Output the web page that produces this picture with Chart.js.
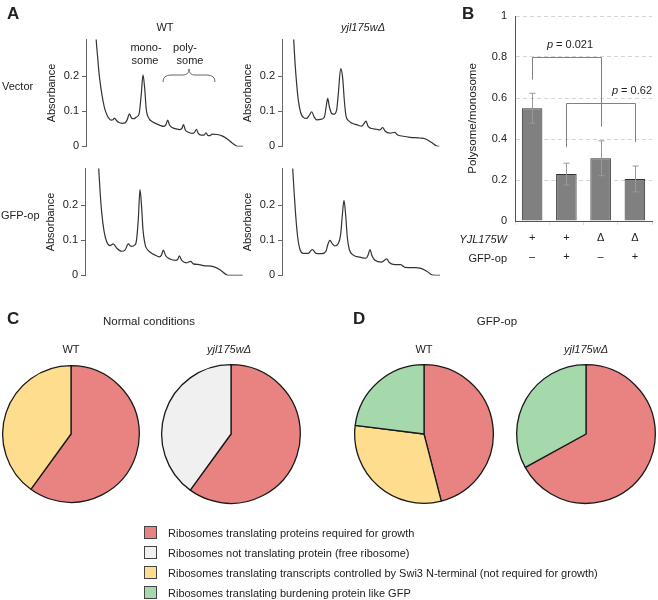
<!DOCTYPE html>
<html>
<head>
<meta charset="utf-8">
<script src="https://cdn.jsdelivr.net/npm/chart.js@4.4.1/dist/chart.umd.min.js"></script>
<style>
  body { margin: 0; background: #fff; }
  #fig { position: relative; width: 658px; height: 600px; overflow: hidden;
         font-family: "Liberation Sans", Arial, sans-serif; font-size: 11px; color: #222; }
  #fig canvas { position: absolute; }
  .t { position: absolute; white-space: nowrap; line-height: 1; }
  .sw { position: absolute; width: 13px; height: 13px; border: 1px solid #444; box-sizing: border-box; }
</style>
</head>
<body>
<div id="fig">
  <canvas id="aTL" width="210" height="126" style="left:40px;top:30px"></canvas>
  <canvas id="aTR" width="210" height="126" style="left:236px;top:30px"></canvas>
  <canvas id="aBL" width="210" height="126" style="left:39px;top:159px"></canvas>
  <canvas id="aBR" width="210" height="126" style="left:236px;top:159px"></canvas>
  <canvas id="ratio" width="198" height="270" style="left:460px;top:0px"></canvas>
  <canvas id="pie1" width="142" height="142" style="left:0px;top:363px"></canvas>
  <canvas id="pie2" width="144" height="144" style="left:159px;top:362px"></canvas>
  <canvas id="pie3" width="144" height="144" style="left:352px;top:362px"></canvas>
  <canvas id="pie4" width="144" height="144" style="left:514px;top:362px"></canvas>
  <svg width="658" height="600" style="position:absolute;left:0;top:0;pointer-events:none">
    <path d="M163,82 Q163,75 171,75 L183,75 Q189,75 189,69 Q189,75 195,75 L207,75 Q215,75 215,82"
          fill="none" stroke="#666" stroke-width="1"/>
  </svg>
</div>
<script>
// ---- Panel A: polysome profiles (gradient position vs absorbance) ----
const absTicks = [0, 0.1, 0.2];

const wtVecX = [9.5, 10.3, 11.5, 13, 15, 17, 19, 21, 23, 25, 27, 28.5, 30.5, 33, 36, 39, 41, 43.5, 45.5, 48, 50, 53,
  55.3, 57, 58.7, 60.3, 63, 66, 70, 74, 78, 80, 81.7, 83.5, 86, 90, 94, 96, 97.5, 99.3, 102, 106, 108.5, 110.5,
  112.3, 115, 118, 120, 122, 124, 126, 131, 136, 141, 146, 150, 152, 157];
const wtVecY = [0.34, 0.30, 0.26, 0.21, 0.165, 0.13, 0.105, 0.09, 0.08, 0.075, 0.076, 0.081, 0.074, 0.068, 0.066, 0.067,
  0.075, 0.093, 0.081, 0.079, 0.083, 0.092, 0.15, 0.204, 0.165, 0.105, 0.08, 0.071, 0.065, 0.06, 0.057, 0.063,
  0.075, 0.061, 0.054, 0.05, 0.048, 0.052, 0.062, 0.047, 0.041, 0.037, 0.04, 0.049, 0.037, 0.032, 0.032, 0.039,
  0.031, 0.031, 0.035, 0.034, 0.03, 0.022, 0.01, 0.002, 0, 0];

const delVecX = [11, 13, 14.7, 16.3, 18.7, 21.3, 24.7, 27.3, 29.7, 32, 34.7, 39.7, 42.3, 44, 45.7, 47.3, 49.7, 52,
  54.7, 56.3, 58.7, 60.7, 62.3, 64, 66.3, 69.7, 74.7, 79.7, 82, 84, 86, 89.7, 94.7, 98, 100.7, 103, 108, 113,
  115.3, 121.3, 128, 138, 143, 149.7, 154.7, 157.3];
const delVecY = [0.34, 0.24, 0.177, 0.132, 0.096, 0.083, 0.08, 0.089, 0.099, 0.085, 0.076, 0.078, 0.083, 0.11, 0.137,
  0.114, 0.094, 0.092, 0.105, 0.15, 0.222, 0.195, 0.132, 0.087, 0.074, 0.067, 0.062, 0.058, 0.065, 0.072, 0.058,
  0.051, 0.049, 0.047, 0.054, 0.044, 0.038, 0.04, 0.033, 0.029, 0.026, 0.024, 0.022, 0.011, 0.001, 0];

const wtGfpX = [13, 15, 16.7, 19, 21.7, 25, 28.3, 31.7, 36.7, 40, 43.3, 46, 50, 51.5, 53.3, 55, 56.5, 58, 60, 61,
  65, 70, 74.3, 76.5, 78.3, 80.7, 85, 91, 93, 94.3, 96.7, 101.7, 105.7, 108.3, 114.3, 118.3, 128.3, 135, 143.3, 157.7];
const wtGfpY = [0.34, 0.243, 0.18, 0.127, 0.096, 0.085, 0.09, 0.078, 0.069, 0.072, 0.09, 0.083, 0.087, 0.10, 0.16,
  0.245, 0.2, 0.13, 0.09, 0.08, 0.067, 0.058, 0.053, 0.058, 0.072, 0.056, 0.047, 0.043, 0.047, 0.056, 0.043, 0.036,
  0.04, 0.033, 0.031, 0.028, 0.025, 0.016, 0, 0];

const delGfpX = [10, 12, 13.7, 15.7, 18, 21.3, 26.3, 30.3, 34, 39.7, 44, 45.7, 48, 50.3, 53, 56.3, 58.7, 60.3, 62,
  63.7, 65.3, 67.3, 71.3, 78, 84, 86.3, 88, 90, 93, 99.7, 104.7, 107.3, 113, 118.7, 123, 133, 138, 144.7, 150.7, 158];
const delGfpY = [0.34, 0.243, 0.171, 0.109, 0.074, 0.063, 0.063, 0.074, 0.063, 0.062, 0.069, 0.087, 0.1, 0.09, 0.084,
  0.091, 0.118, 0.171, 0.214, 0.171, 0.109, 0.074, 0.058, 0.052, 0.049, 0.06, 0.074, 0.056, 0.043, 0.038, 0.047,
  0.037, 0.031, 0.031, 0.023, 0.022, 0.021, 0.012, 0.001, 0];

// ---- Panel B: polysome/monosome ratio ----
const yjlGenotype = ['+', '+', 'Δ', 'Δ'];
const gfpOp = ['–', '+', '–', '+'];
const ratioMean = [0.55, 0.229, 0.306, 0.205];
const ratioErr = [0.073, 0.053, 0.085, 0.063];
const ratioTicks = [0, 0.2, 0.4, 0.6, 0.8, 1];
const pTests = [
  { from: 0, to: 2, level: 0.8, legs: [0.69, 0.46], p: '0.021', labelAt: 'mid' },
  { from: 1, to: 3, level: 0.575, legs: [0.36, 0.385], p: '0.62', labelAt: 'right' }
];

// ---- Panels C/D: ribosome allocation ----
const pieCats = [
  'Ribosomes translating proteins required for growth',
  'Ribosomes not translating protein (free ribosome)',
  'Ribosomes translating transcripts controlled by Swi3 N-terminal (not required for growth)',
  'Ribosomes translating burdening protein like GFP'
];
const pieColors = ['#e98381', '#f0f0f0', '#fedd8f', '#a5d9ab'];
const normalWT = [60, 0, 40, 0];
const normalDel = [60, 40, 0, 0];
const gfpWT = [46, 0, 31, 23];
const gfpDel = [67, 0, 0, 33];

Chart.defaults.font.family = '"Liberation Sans", Arial, sans-serif';
Chart.defaults.color = '#222';
Chart.defaults.animation = false;
Chart.defaults.events = [];
Chart.defaults.plugins.legend.display = false;
Chart.defaults.plugins.tooltip.enabled = false;

const fig = document.getElementById('fig');

function addText(str, x, y, opts = {}) {
  const d = document.createElement('div');
  d.className = 't';
  d.textContent = str;
  d.style.left = x + 'px';
  d.style.top = y + 'px';
  const ax = opts.align === 'right' ? '-100%' : opts.align === 'left' ? '0' : '-50%';
  d.style.transform = `translate(${ax}, -50%)`;
  if (opts.italic) d.style.fontStyle = 'italic';
  if (opts.bold) d.style.fontWeight = 'bold';
  if (opts.size) d.style.fontSize = opts.size + 'px';
  fig.appendChild(d);
}

const absorbancePlot = (id, xs, ys) => {
  new Chart(document.getElementById(id), {
    type: 'line',
    data: {
      datasets: [{
        data: xs.map((x, i) => ({ x, y: ys[i] })),
        borderColor: '#333', borderWidth: 1.2, pointRadius: 0,
        cubicInterpolationMode: 'monotone', fill: false
      }]
    },
    options: {
      responsive: false,
      layout: { padding: { top: 9, bottom: 4, right: 4, left: 0 } },
      scales: {
        x: { type: 'linear', min: 0, max: 160, display: false },
        y: {
          min: 0, max: 0.305,
          afterBuildTicks: s => { s.ticks = absTicks.map(v => ({ value: v })); },
          afterFit: s => { s.width = 46; },
          ticks: { callback: v => v === 0 ? '0' : v.toFixed(1), font: { size: 11 }, padding: 3 },
          grid: { drawOnChartArea: false, tickLength: 4, color: '#666' },
          border: { color: '#666', width: 1 },
          title: { display: true, text: 'Absorbance', font: { size: 11 }, padding: { top: 5, bottom: 0 } }
        }
      }
    }
  });
};

absorbancePlot('aTL', wtVecX, wtVecY);
absorbancePlot('aTR', delVecX, delVecY);
absorbancePlot('aBL', wtGfpX, wtGfpY);
absorbancePlot('aBR', delGfpX, delGfpY);

// error bars + significance brackets for panel B
const errorBars = {
  id: 'errorBars',
  afterDatasetsDraw(chart) {
    const { ctx, scales: { y } } = chart;
    const meta = chart.getDatasetMeta(0);
    ctx.save();
    ctx.strokeStyle = '#999';
    ctx.lineWidth = 1;
    meta.data.forEach((bar, i) => {
      const cx = Math.round(bar.x) + 0.5;
      const hi = y.getPixelForValue(ratioMean[i] + ratioErr[i]);
      const lo = y.getPixelForValue(ratioMean[i] - ratioErr[i]);
      ctx.beginPath();
      ctx.moveTo(cx, hi); ctx.lineTo(cx, lo);
      ctx.moveTo(cx - 3, hi); ctx.lineTo(cx + 3, hi);
      ctx.moveTo(cx - 3, lo); ctx.lineTo(cx + 3, lo);
      ctx.stroke();
    });
    ctx.restore();
  }
};

const brackets = {
  id: 'brackets',
  afterDatasetsDraw(chart) {
    const { ctx, chartArea, scales: { x, y } } = chart;
    ctx.save();
    ctx.strokeStyle = '#808080';
    ctx.lineWidth = 1;
    pTests.forEach(t => {
      const x1 = Math.round(x.getPixelForValue(t.from)) + 0.5;
      const x2 = Math.round(x.getPixelForValue(t.to)) + 0.5;
      const yl = Math.round(y.getPixelForValue(t.level)) + 0.5;
      ctx.beginPath();
      ctx.moveTo(x1, y.getPixelForValue(t.legs[0]));
      ctx.lineTo(x1, yl);
      ctx.lineTo(x2, yl);
      ctx.lineTo(x2, y.getPixelForValue(t.legs[1]));
      ctx.stroke();

      const rest = ' = ' + t.p;
      ctx.font = 'italic 11px "Liberation Sans", Arial, sans-serif';
      const wp = ctx.measureText('p').width;
      ctx.font = '11px "Liberation Sans", Arial, sans-serif';
      const wr = ctx.measureText(rest).width;
      const w = wp + wr;
      const tx = t.labelAt === 'right' ? chartArea.right - w : (x1 + x2) / 2 - w / 2 + 3;
      const ty = y.getPixelForValue(t.level + 0.06);
      ctx.fillStyle = '#222';
      ctx.textBaseline = 'middle';
      ctx.textAlign = 'left';
      ctx.font = 'italic 11px "Liberation Sans", Arial, sans-serif';
      ctx.fillText('p', tx, ty);
      ctx.font = '11px "Liberation Sans", Arial, sans-serif';
      ctx.fillText(rest, tx + wp, ty);
    });
    ctx.restore();
  }
};

new Chart(document.getElementById('ratio'), {
  type: 'bar',
  data: {
    labels: yjlGenotype.map((g, i) => [g, gfpOp[i]]),
    datasets: [{
      data: ratioMean,
      backgroundColor: '#808080', borderColor: '#333', borderWidth: 1,
      barPercentage: 0.6, categoryPercentage: 1
    }]
  },
  options: {
    responsive: false,
    layout: { padding: { top: 16, right: 6, left: 0, bottom: 0 } },
    scales: {
      x: {
        afterFit: s => { s.height = 49; },
        grid: { drawOnChartArea: false, tickLength: 4, color: '#ddd' },
        border: { color: '#555', width: 1 },
        ticks: { font: { size: 11, lineHeight: 1.7 }, padding: 4, maxRotation: 0 }
      },
      y: {
        min: 0, max: 1,
        afterBuildTicks: s => { s.ticks = ratioTicks.map(v => ({ value: v })); },
        afterFit: s => { s.width = 55; },
        ticks: { callback: v => (v === 0 || v === 1) ? String(v) : v.toFixed(1), font: { size: 11 }, padding: 8 },
        grid: { color: c => c.tick && c.tick.value === 0 ? 'rgba(0,0,0,0)' : '#d6d6d6', drawTicks: false },
        border: { color: '#555', width: 1, dash: [4, 3] },
        title: { display: true, text: 'Polysome/monosome', font: { size: 11.5 }, padding: { top: 6, bottom: 0 } }
      }
    }
  },
  plugins: [errorBars, brackets]
});

const pieChart = (id, values) => {
  const keep = values.map((v, i) => i).filter(i => values[i] > 0);
  new Chart(document.getElementById(id), {
    type: 'pie',
    data: {
      labels: keep.map(i => pieCats[i]),
      datasets: [{
        data: keep.map(i => values[i]),
        backgroundColor: keep.map(i => pieColors[i]),
        borderColor: '#1a1a1a', borderWidth: 1.3
      }]
    },
    options: { responsive: false, layout: { padding: 2 } }
  });
};

pieChart('pie1', normalWT);
pieChart('pie2', normalDel);
pieChart('pie3', gfpWT);
pieChart('pie4', gfpDel);

// ---- text ----
addText('A', 7, 13, { bold: true, size: 17, align: 'left' });
addText('WT', 165, 27);
addText('yjl175wΔ', 363, 27, { italic: true });
addText('mono-', 146, 47);
addText('some', 145, 60);
addText('poly-', 185, 47);
addText('some', 190, 60);
addText('Vector', 2, 86, { align: 'left' });
addText('GFP-op', 1, 215, { align: 'left' });

addText('B', 462, 13, { bold: true, size: 17, align: 'left' });
addText('YJL175W', 507, 239, { italic: true, align: 'right' });
addText('GFP-op', 507, 258, { align: 'right' });

addText('C', 7, 318, { bold: true, size: 17, align: 'left' });
addText('Normal conditions', 149, 322, { size: 11.5 });
addText('WT', 71, 349);
addText('yjl175wΔ', 229, 349, { italic: true });

addText('D', 353, 318, { bold: true, size: 17, align: 'left' });
addText('GFP-op', 497, 322, { size: 11.5 });
addText('WT', 424, 349);
addText('yjl175wΔ', 586, 349, { italic: true });

// legend for the pies
pieCats.forEach((cat, i) => {
  const cy = 533 + i * 20;
  const sw = document.createElement('div');
  sw.className = 'sw';
  sw.style.left = '144px';
  sw.style.top = (cy - 7) + 'px';
  sw.style.background = pieColors[i];
  fig.appendChild(sw);
  addText(cat, 168, cy, { align: 'left' });
});
</script>
</body>
</html>
